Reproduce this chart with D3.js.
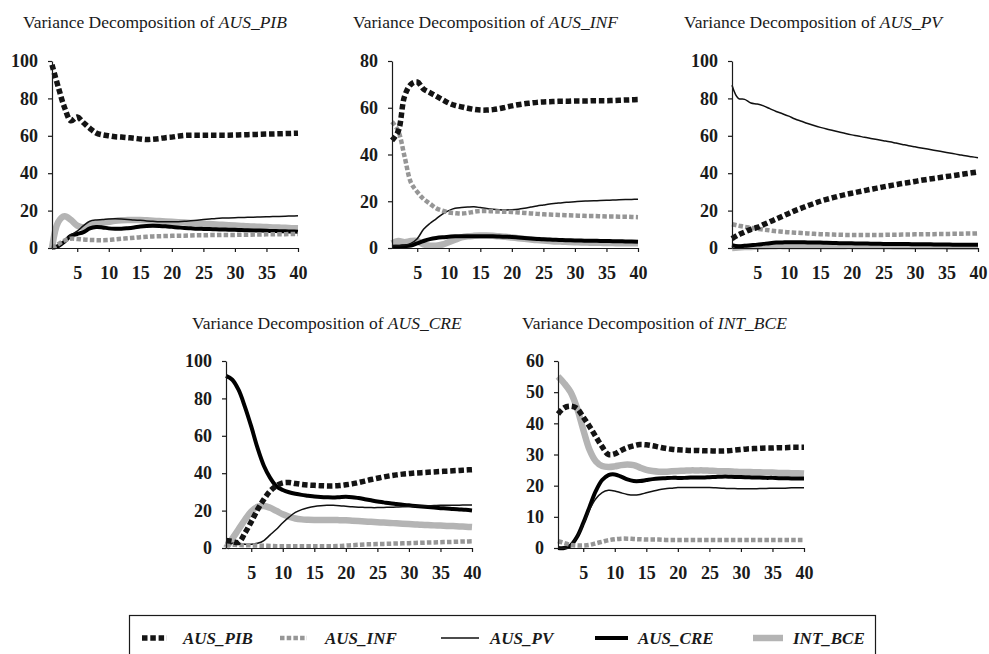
<!DOCTYPE html>
<html>
<head>
<meta charset="utf-8">
<script src="https://cdnjs.cloudflare.com/ajax/libs/d3/7.8.5/d3.min.js"></script>
<style>
  body { margin: 0; background: #fff; }
  svg { display: block; }
  svg text { font-family: "Liberation Serif", "Tinos", "Times New Roman", "DejaVu Serif", serif !important; }
</style>
</head>
<body>
<svg id="chart" width="989" height="654"></svg>
<script>
// forecast horizons (categories on the x axis)
const horizons = d3.range(1, 41)
const seriesNames = ["AUS_PIB", "AUS_INF", "AUS_PV", "AUS_CRE", "INT_BCE"]
const xTickLabels = [5, 10, 15, 20, 25, 30, 35, 40]
const yTicks100 = [0, 20, 40, 60, 80, 100]
const yTicks80 = [0, 20, 40, 60, 80]
const yTicks60 = [0, 10, 20, 30, 40, 50, 60]

// Variance decomposition of AUS_PIB
const PIB_PIB = [98, 86, 75, 68, 70, 67, 64, 61.5, 60.5, 60,
  59.5, 59.3, 59, 58.7, 58.3, 58, 58.2, 58.5, 59, 59.3,
  59.8, 60.2, 60.3, 60.3, 60.3, 60.3, 60.3, 60.3, 60.3, 60.4,
  60.5, 60.6, 60.7, 60.8, 60.9, 61, 61.1, 61.2, 61.3, 61.4]
const PIB_INF = [0, 2, 4, 5, 4.8, 4.5, 4.3, 4.2, 4.2, 4.3,
  4.6, 4.9, 5.2, 5.5, 5.8, 6, 6.2, 6.3, 6.4, 6.5,
  6.6, 6.6, 6.7, 6.8, 6.8, 6.9, 6.9, 7, 7, 7,
  7.1, 7.1, 7.2, 7.2, 7.3, 7.3, 7.4, 7.4, 7.5, 7.5]
const PIB_PV = [0, 1.5, 4, 7, 9, 12, 14.3, 15, 15.2, 15.5,
  15.6, 15.5, 15.3, 15, 14.8, 14.5, 14.3, 14.1, 14, 14,
  14.1, 14.3, 14.6, 14.9, 15.2, 15.5, 15.8, 16, 16.1, 16.2,
  16.3, 16.4, 16.5, 16.6, 16.7, 16.8, 16.9, 17, 17.1, 17.2]
const PIB_CRE = [0, 1, 3.5, 6.5, 7.5, 8.5, 10.5, 11.2, 11, 10.5,
  10.3, 10.3, 10.6, 11, 11.5, 11.8, 11.9, 11.8, 11.6, 11.3,
  11, 10.7, 10.5, 10.3, 10.2, 10.1, 10, 9.9, 9.8, 9.7,
  9.6, 9.5, 9.4, 9.3, 9.2, 9.1, 9, 8.9, 8.8, 8.7]
const PIB_BCE = [0, 14, 17, 15, 12, 11, 12, 13, 13.5, 14,
  14.5, 14.8, 15, 15, 15, 14.8, 14.6, 14.4, 14.2, 14,
  13.8, 13.6, 13.4, 13.2, 13, 12.8, 12.6, 12.4, 12.2, 12,
  11.8, 11.6, 11.5, 11.3, 11.2, 11, 10.9, 10.8, 10.6, 10.5]

// Variance decomposition of AUS_INF
const INF_PIB = [46, 50, 65, 70, 71, 68, 66.5, 65, 63.5, 62,
  61, 60.4, 59.8, 59.3, 59, 59, 59.2, 59.6, 60.2, 60.8,
  61.3, 61.7, 62, 62.3, 62.5, 62.6, 62.7, 62.8, 62.8, 62.9,
  62.9, 62.9, 63, 63, 63, 63.1, 63.2, 63.3, 63.4, 63.5]
const INF_INF = [54, 50, 39, 28, 24, 21, 19, 17, 16, 15.2,
  14.9, 14.7, 15, 15.5, 15.8, 15.8, 15.7, 15.6, 15.5, 15.4,
  15.2, 15, 14.8, 14.6, 14.4, 14.3, 14.2, 14.1, 14, 13.9,
  13.8, 13.7, 13.7, 13.6, 13.5, 13.5, 13.4, 13.4, 13.3, 13.2]
const INF_PV = [1, 1, 1.2, 2, 4, 8, 10.5, 12.5, 14.5, 16,
  17, 17.3, 17.5, 17.6, 17.3, 16.9, 16.6, 16.4, 16.3, 16.4,
  16.6, 17, 17.5, 18, 18.4, 18.8, 19.1, 19.4, 19.6, 19.8,
  20, 20.1, 20.2, 20.3, 20.4, 20.5, 20.6, 20.7, 20.8, 20.9]
const INF_CRE = [0.5, 0.6, 0.8, 1, 2, 3, 3.8, 4.3, 4.6, 4.8,
  5, 5, 5, 5, 5, 5, 5, 4.9, 4.8, 4.7,
  4.5, 4.3, 4.1, 3.9, 3.7, 3.6, 3.5, 3.4, 3.3, 3.2,
  3.2, 3.1, 3.1, 3, 3, 2.9, 2.9, 2.8, 2.8, 2.7]
const INF_BCE = [2, 3, 2.5, 3, 3, 1.5, 1, 1, 1.5, 2.5,
  3.5, 4.5, 5, 5.2, 5.3, 5.3, 5.2, 5, 4.8, 4.5,
  4.2, 3.9, 3.6, 3.4, 3.2, 3, 2.8, 2.7, 2.6, 2.5,
  2.4, 2.3, 2.2, 2.2, 2.1, 2.1, 2, 2, 2, 2]

// Variance decomposition of AUS_PV
const PV_PIB = [5, 7, 8.5, 10, 11, 12.5, 14, 15.5, 17, 18.5,
  20, 21.3, 22.6, 23.8, 25, 26, 26.9, 27.8, 28.6, 29.3,
  30, 30.7, 31.4, 32, 32.7, 33.3, 33.9, 34.5, 35, 35.6,
  36.2, 36.7, 37.2, 37.7, 38.2, 38.7, 39.2, 39.7, 40.2, 40.7]
const PV_INF = [12.7, 12, 11.3, 10.8, 10.3, 9.8, 9.4, 9, 8.7, 8.4,
  8.2, 8, 7.8, 7.6, 7.4, 7.3, 7.2, 7.1, 7, 7,
  7, 7, 7, 7, 7, 7.1, 7.1, 7.2, 7.2, 7.3,
  7.3, 7.4, 7.4, 7.5, 7.5, 7.6, 7.6, 7.7, 7.7, 7.8]
const PV_PV = [87, 80, 79.5, 77.5, 77, 76, 74.5, 73, 71.8, 70.5,
  69, 67.8, 66.6, 65.5, 64.5, 63.6, 62.8, 62, 61.2, 60.5,
  59.9, 59.2, 58.6, 58, 57.4, 56.8, 56.1, 55.4, 54.7, 54.1,
  53.5, 52.9, 52.3, 51.7, 51.1, 50.5, 49.9, 49.3, 48.8, 48.3]
const PV_CRE = [1.5, 1, 1.2, 1.5, 1.8, 2.2, 2.6, 2.9, 3, 3.1,
  3.1, 3.1, 3, 3, 2.9, 2.8, 2.7, 2.6, 2.5, 2.5,
  2.4, 2.4, 2.3, 2.3, 2.2, 2.2, 2.1, 2.1, 2.1, 2,
  2, 2, 1.9, 1.9, 1.9, 1.8, 1.8, 1.8, 1.8, 1.8]
const PV_BCE = [0, 0.3, 0.5, 0.6, 0.7, 0.8, 0.9, 1, 1, 1,
  1, 1, 1, 1, 1, 1, 1, 1, 1, 1,
  0.9, 0.9, 0.9, 0.9, 0.9, 0.9, 0.8, 0.8, 0.8, 0.8,
  0.8, 0.8, 0.8, 0.8, 0.7, 0.7, 0.7, 0.7, 0.7, 0.7]

// Variance decomposition of AUS_CRE
const CRE_PIB = [4, 3.5, 3, 8, 14, 20.5, 26, 30.5, 33.3, 34.8,
  35, 34.5, 34, 33.7, 33.5, 33.3, 33.2, 33.2, 33.4, 33.8,
  34.3, 35, 35.8, 36.6, 37.3, 38, 38.6, 39.1, 39.5, 39.8,
  40.1, 40.3, 40.5, 40.7, 40.9, 41.1, 41.3, 41.5, 41.7, 41.9]
const CRE_INF = [2, 1.8, 1.6, 1.5, 1.4, 1.3, 1.2, 1.1, 1, 1,
  1, 1, 1, 1, 1, 1, 1, 1, 1.1, 1.3,
  1.5, 1.7, 1.9, 2, 2.1, 2.2, 2.3, 2.4, 2.5, 2.6,
  2.7, 2.8, 2.9, 3, 3.1, 3.2, 3.3, 3.4, 3.5, 3.6]
const CRE_PV = [1, 2.5, 2.5, 2, 2, 2.5, 4, 7, 10, 13.5,
  16.5, 19, 20.5, 21.5, 22.2, 22.6, 22.8, 22.8, 22.6, 22.3,
  22, 21.8, 21.7, 21.6, 21.6, 21.7, 21.8, 21.9, 22, 22.2,
  22.4, 22.5, 22.6, 22.7, 22.8, 22.8, 22.9, 22.9, 23, 23]
const CRE_CRE = [92, 90, 84.5, 75.5, 65, 53.5, 44, 37.5, 33, 31,
  29.8, 29, 28.4, 28, 27.6, 27.3, 27.1, 27, 27.2, 27.4,
  27.2, 26.7, 26.1, 25.5, 24.9, 24.4, 23.9, 23.5, 23.1, 22.8,
  22.5, 22.2, 21.9, 21.6, 21.3, 21.1, 20.8, 20.6, 20.4, 20.1]
const CRE_BCE = [0, 5, 10, 15, 19.5, 22, 22.5, 21.5, 19.8, 18,
  16.8, 15.8, 15.3, 15.1, 15, 15, 15, 15, 14.9, 14.8,
  14.6, 14.4, 14.2, 14, 13.8, 13.6, 13.4, 13.2, 13, 12.8,
  12.6, 12.4, 12.3, 12.1, 12, 11.8, 11.7, 11.5, 11.4, 11.2]

// Variance decomposition of INT_BCE
const BCE_PIB = [43, 45, 45.5, 44.8, 42, 39, 35.7, 32.5, 30, 30.2,
  31.3, 32.2, 32.8, 33.2, 33.1, 32.8, 32.4, 32, 31.7, 31.5,
  31.4, 31.3, 31.3, 31.2, 31.2, 31.1, 31.1, 31.2, 31.4, 31.6,
  31.8, 31.9, 32, 32.1, 32.1, 32.2, 32.2, 32.3, 32.3, 32.3]
const BCE_INF = [2.2, 1.6, 1, 0.8, 0.8, 1, 1.5, 2, 2.5, 2.8,
  3, 3, 2.9, 2.8, 2.7, 2.7, 2.7, 2.6, 2.6, 2.6,
  2.6, 2.6, 2.6, 2.6, 2.6, 2.6, 2.6, 2.6, 2.6, 2.6,
  2.6, 2.6, 2.6, 2.6, 2.6, 2.6, 2.6, 2.6, 2.6, 2.6]
const BCE_PV = [0, 0.2, 1, 3.5, 7.5, 12.3, 15.8, 17.8, 18.5, 18.3,
  17.7, 17.2, 17, 17.2, 17.7, 18.2, 18.7, 19, 19.2, 19.4,
  19.4, 19.4, 19.4, 19.4, 19.4, 19.3, 19.2, 19.1, 19.1, 19,
  19, 19, 19.1, 19.1, 19.2, 19.2, 19.2, 19.3, 19.3, 19.3]
const BCE_CRE = [0, 0, 0.8, 3.5, 8, 13.2, 18.3, 21.8, 23.4, 23.6,
  22.9, 22, 21.5, 21.5, 21.8, 22.1, 22.3, 22.4, 22.5, 22.5,
  22.5, 22.6, 22.6, 22.6, 22.7, 22.8, 22.9, 22.9, 22.8, 22.8,
  22.7, 22.6, 22.6, 22.5, 22.5, 22.4, 22.4, 22.3, 22.3, 22.3]
const BCE_BCE = [55, 52.8, 50, 45, 38, 31.5, 27.8, 26.3, 26, 26.2,
  26.6, 26.8, 26.6, 25.8, 25.1, 24.7, 24.5, 24.5, 24.6, 24.7,
  24.8, 24.9, 24.9, 24.9, 24.8, 24.7, 24.6, 24.6, 24.5, 24.4,
  24.4, 24.3, 24.3, 24.2, 24.2, 24.1, 24.1, 24, 24, 23.9]

// how each shock is drawn (excel-ish look)
const lineStyle = {
  AUS_PIB: { stroke: "#141414", width: 5.5, dash: "5.5,2.8" },
  AUS_INF: { stroke: "#969696", width: 4.5, dash: "4.5,2.2" },
  AUS_PV:  { stroke: "#111111", width: 1.5, dash: null },
  AUS_CRE: { stroke: "#000000", width: 4,   dash: null },
  INT_BCE: { stroke: "#b4b4b4", width: 6.5, dash: null }
}

const plotW = 246, plotH = 187

const panels = [
  { name: "AUS_PIB", yMax: 100, yTicks: yTicks100, series: [PIB_PIB, PIB_INF, PIB_PV, PIB_CRE, PIB_BCE], left: 52,  top: 61,  titleX: 23,  titleY: 28 },
  { name: "AUS_INF", yMax: 80,  yTicks: yTicks80,  series: [INF_PIB, INF_INF, INF_PV, INF_CRE, INF_BCE], left: 392, top: 61,  titleX: 353, titleY: 28 },
  { name: "AUS_PV",  yMax: 100, yTicks: yTicks100, series: [PV_PIB, PV_INF, PV_PV, PV_CRE, PV_BCE],      left: 732, top: 61,  titleX: 684, titleY: 28 },
  { name: "AUS_CRE", yMax: 100, yTicks: yTicks100, series: [CRE_PIB, CRE_INF, CRE_PV, CRE_CRE, CRE_BCE], left: 226, top: 361, titleX: 192, titleY: 329 },
  { name: "INT_BCE", yMax: 60,  yTicks: yTicks60,  series: [BCE_PIB, BCE_INF, BCE_PV, BCE_CRE, BCE_BCE], left: 558, top: 361, titleX: 522, titleY: 329 }
]

const svg = d3.select("#chart")

class Panel {
  constructor(_svg, _cfg) {
    this.svg = _svg
    this.cfg = _cfg
    this.initVis()
  }

  initVis() {
    const vis = this
    const cfg = vis.cfg

    vis.x = d3.scaleLinear().domain([1, 40]).range([0, plotW])
    vis.y = d3.scaleLinear().domain([0, cfg.yMax]).range([plotH, 0])

    // title: plain text then italic variable name
    const title = vis.svg.append("text")
      .attr("x", cfg.titleX)
      .attr("y", cfg.titleY)
      .style("font-size", "17.5px")
      .style("fill", "#1a1a1a")
    title.append("tspan").text("Variance Decomposition of ")
    title.append("tspan").style("font-style", "italic").text(cfg.name)

    vis.g = vis.svg.append("g").attr("transform", `translate(${cfg.left},${cfg.top})`)

    vis.line = d3.line()
      .x((d, i) => vis.x(horizons[i]))
      .y(d => vis.y(d))
      .curve(d3.curveCatmullRom.alpha(0.5))

    // drawn in reverse so AUS_PIB ends up on top
    const order = d3.range(seriesNames.length).reverse()
    order.forEach(k => {
      const st = lineStyle[seriesNames[k]]
      vis.g.append("path")
        .datum(cfg.series[k])
        .attr("d", vis.line)
        .attr("fill", "none")
        .attr("stroke", st.stroke)
        .attr("stroke-width", st.width)
        .attr("stroke-dasharray", st.dash)
        .attr("stroke-linejoin", "round")
    })

    const yAxis = d3.axisLeft(vis.y)
      .tickValues(cfg.yTicks)
      .tickSize(4)
      .tickSizeOuter(0)
      .tickPadding(10)
    const xAxis = d3.axisBottom(vis.x)
      .tickValues(xTickLabels)
      .tickSize(4)
      .tickSizeOuter(0)
      .tickPadding(14)

    vis.g.append("g").attr("class", "axis").call(yAxis)
    vis.g.append("g").attr("class", "axis")
      .attr("transform", `translate(0,${plotH})`)
      .call(xAxis)

    vis.g.selectAll(".axis").attr("font-family", null)
    vis.g.selectAll(".axis text")
      .style("font-size", "18px")
      .style("font-weight", "bold")
      .style("fill", "#1a1a1a")
    vis.g.selectAll(".axis path, .axis line")
      .attr("stroke", "#1a1a1a")
      .attr("stroke-width", 1.2)
  }
}

panels.forEach(p => new Panel(svg, p))

// legend box along the bottom
const legendItems = [
  { name: "AUS_PIB", x0: 142, x1: 167, tx: 183 },
  { name: "AUS_INF", x0: 280, x1: 307, tx: 325 },
  { name: "AUS_PV",  x0: 441, x1: 479, tx: 490 },
  { name: "AUS_CRE", x0: 595, x1: 628, tx: 638 },
  { name: "INT_BCE", x0: 753, x1: 783, tx: 793 }
]

svg.append("rect")
  .attr("x", 129.5).attr("y", 615.5)
  .attr("width", 746).attr("height", 50)
  .attr("fill", "none")
  .attr("stroke", "#1a1a1a")
  .attr("stroke-width", 1.2)

const legendY = 638
legendItems.forEach(it => {
  const st = lineStyle[it.name]
  svg.append("line")
    .attr("x1", it.x0).attr("x2", it.x1)
    .attr("y1", legendY).attr("y2", legendY)
    .attr("stroke", st.stroke)
    .attr("stroke-width", st.width)
    .attr("stroke-dasharray", st.dash)
  svg.append("text")
    .attr("x", it.tx)
    .attr("y", legendY + 6)
    .style("font-size", "17px")
    .style("font-style", "italic")
    .style("font-weight", "bold")
    .style("fill", "#1a1a1a")
    .text(it.name)
})
</script>
</body>
</html>
